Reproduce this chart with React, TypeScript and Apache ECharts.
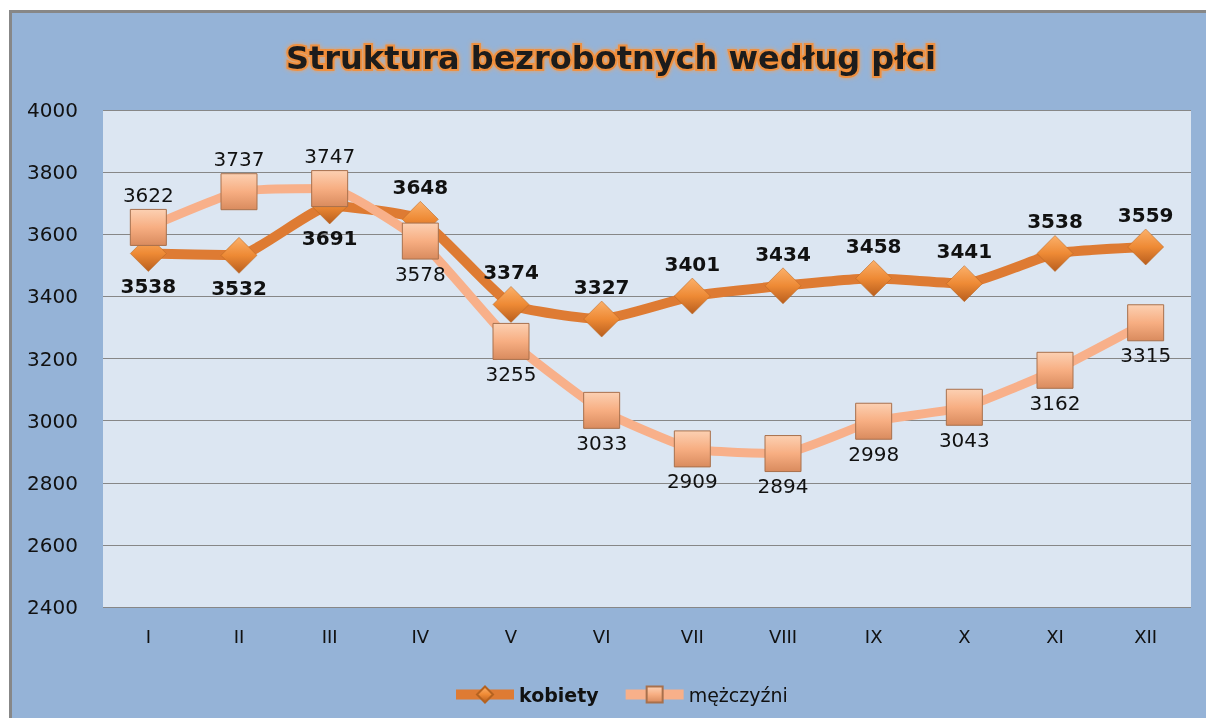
import React, { useEffect, useRef } from "react";
import * as echarts from "echarts";

const months = ["I", "II", "III", "IV", "V", "VI", "VII", "VIII", "IX", "X", "XI", "XII"];
const kobiety = [3538, 3532, 3691, 3648, 3374, 3327, 3401, 3434, 3458, 3441, 3538, 3559];
const mezczyzni = [3622, 3737, 3747, 3578, 3255, 3033, 2909, 2894, 2998, 3043, 3162, 3315];
const titleText = "Struktura bezrobotnych według płci";

export default function App() {
  const ref = useRef<HTMLDivElement>(null);
  useEffect(() => {
    if (!ref.current) return;
    const chart = echarts.init(ref.current, null, { renderer: "svg" });
    const font = "DejaVu Sans";
    const kData = kobiety.map((v, i) => ({
      value: v,
      label: { position: v < mezczyzni[i] ? "bottom" : "top" },
    }));
    const mData = mezczyzni.map((v, i) => ({
      value: v,
      label: { position: v > kobiety[i] ? "top" : "bottom" },
    }));
    const diamondFill = new echarts.graphic.LinearGradient(0, 0, 0, 1, [
      { offset: 0, color: "#FBB06A" },
      { offset: 0.5, color: "#EE8A35" },
      { offset: 1, color: "#B85E1E" },
    ]);
    const squareFill = new echarts.graphic.LinearGradient(0, 0, 0, 1, [
      { offset: 0, color: "#FCD0B2" },
      { offset: 0.5, color: "#F7AE82" },
      { offset: 1, color: "#D98B5E" },
    ]);
    chart.setOption({
      animation: false,
      graphic: [
        {
          type: "rect",
          z: -10,
          shape: { x: 10, y: 11, width: 1200, height: 710 },
          style: { fill: "#95B3D7" },
        },
        {
          type: "polyline",
          z: -9,
          shape: { points: [[10.5, 720], [10.5, 11.5], [1210, 11.5]] },
          style: { stroke: "#878787", lineWidth: 3, fill: null },
        },
        {
          type: "text",
          x: 611,
          y: 58,
          style: {
            text: titleText,
            font: "bold 32px 'DejaVu Sans'",
            fill: "#1a1a1a",
            textAlign: "center",
            textVerticalAlign: "middle",
            stroke: "rgba(243,140,50,0.85)",
            lineWidth: 4,
            textShadowColor: "#F5A055",
            textShadowBlur: 4,
          },
        },
      ],
      grid: {
        left: 103,
        right: 15,
        top: 110,
        bottom: 111,
        show: true,
        backgroundColor: "#DCE6F2",
        borderWidth: 0,
      },
      legend: {
        left: 446,
        top: 680,
        itemWidth: 58,
        itemHeight: 20,
        itemGap: 22,
        data: [
          { name: "kobiety", textStyle: { fontWeight: "bold" }, lineStyle: { width: 10 } },
          { name: "mężczyźni", lineStyle: { width: 10 } },
        ],
        textStyle: { fontFamily: font, fontSize: 19, color: "#111" },
      },
      xAxis: {
        type: "category",
        data: months,
        boundaryGap: true,
        axisLine: { show: false },
        axisTick: { show: false },
        axisLabel: { fontFamily: font, fontSize: 18, color: "#111", margin: 20 },
      },
      yAxis: {
        type: "value",
        min: 2400,
        max: 4000,
        interval: 200,
        axisLine: { show: false },
        axisTick: { show: false },
        axisLabel: {
          fontFamily: font,
          fontSize: 20,
          color: "#111",
          margin: 76,
          align: "left",
          formatter: (v: number) => String(v),
        },
        splitLine: { lineStyle: { color: "#878787", width: 1 } },
      },
      series: [
        {
          name: "kobiety",
          type: "line",
          smooth: 0.15,
          data: kData,
          symbol: "diamond",
          symbolSize: [36, 36],
          lineStyle: { color: "#DE7B33", width: 10 },
          itemStyle: { color: diamondFill, borderColor: "#B5621F", borderWidth: 0.5 },
          label: {
            show: true,
            distance: 4,
            fontFamily: font,
            fontSize: 20,
            fontWeight: "bold",
            color: "#111",
          },
          z: 3,
        },
        {
          name: "mężczyźni",
          type: "line",
          smooth: 0.15,
          data: mData,
          symbol: "rect",
          symbolSize: [36, 36],
          lineStyle: { color: "#F8B08A", width: 9 },
          itemStyle: { color: squareFill, borderColor: "#A8704C", borderWidth: 1 },
          label: {
            show: true,
            distance: 4,
            fontFamily: font,
            fontSize: 20,
            color: "#111",
          },
          z: 4,
        },
      ],
    });
    return () => chart.dispose();
  }, []);
  return (
    <div
      ref={ref}
      style={{ position: "fixed", left: 0, top: 0, width: 1206, height: 718 }}
    />
  );
}
